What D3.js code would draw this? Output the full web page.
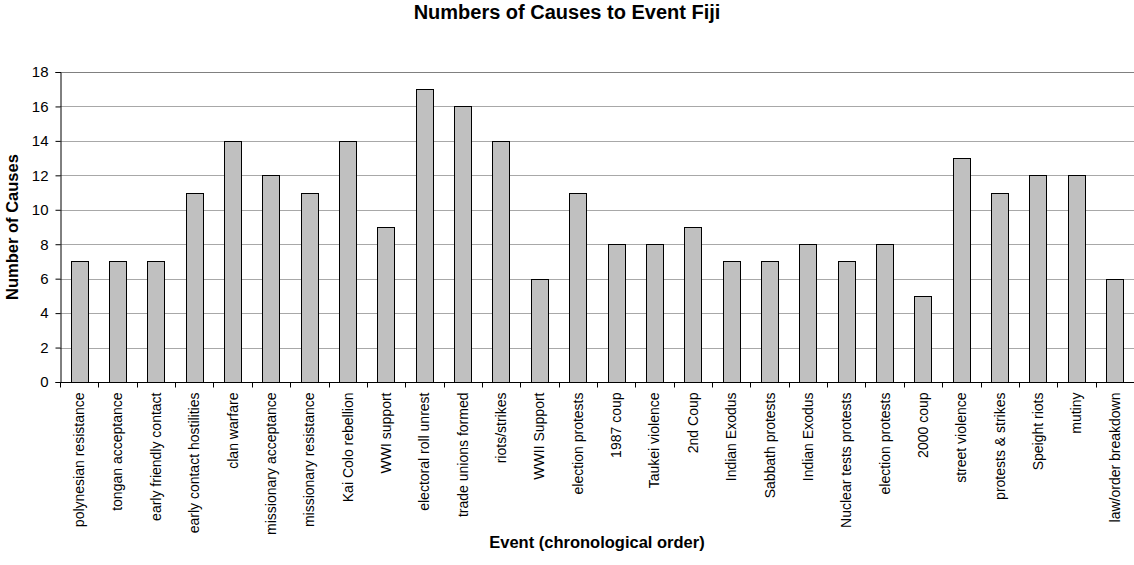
<!DOCTYPE html>
<html>
<head>
<meta charset="utf-8">
<script src="https://cdn.jsdelivr.net/npm/d3@7"></script>
<style>
  body { margin: 0; background: #fff; }
  svg { display: block; font-family: Arial, "Liberation Sans", sans-serif; }
</style>
</head>
<body>
<div id="chart"></div>
<script>
// Events in chronological order and number of causes
const events = [
  'polynesian resistance', 'tongan acceptance', 'early friendly contact',
  'early contact hostilities', 'clan warfare', 'missionary acceptance',
  'missionary resistance', 'Kai Colo rebellion', 'WWI support',
  'electoral roll unrest', 'trade unions formed', 'riots/strikes',
  'WWII Support', 'election protests', '1987 coup', 'Taukei violence',
  '2nd Coup', 'Indian Exodus', 'Sabbath protests', 'Indian Exodus',
  'Nuclear tests protests', 'election protests', '2000 coup',
  'street violence', 'protests & strikes', 'Speight riots', 'mutiny',
  'law/order breakdown'
];
const causes = [7, 7, 7, 11, 14, 12, 11, 14, 9, 17, 16, 14, 6, 11, 8, 8, 9, 7, 7, 8, 7, 8, 5, 13, 11, 12, 12, 6];
const yTicks = [0, 2, 4, 6, 8, 10, 12, 14, 16, 18];

const width = 1134, height = 565;
const margin = {top: 72, right: 0, bottom: 183, left: 60};
const innerW = width - margin.left - margin.right;
const innerH = height - margin.top - margin.bottom;

const data = events.map((e, i) => ({key: i, label: e, value: causes[i]}));

const svg = d3.select('#chart').append('svg')
  .attr('width', width)
  .attr('height', height);

const g = svg.append('g')
  .attr('transform', `translate(${margin.left},${margin.top})`);

const x = d3.scaleBand()
  .domain(data.map(d => d.key))
  .range([0, innerW])
  .paddingInner(0.55)
  .paddingOuter(0.275);

const y = d3.scaleLinear()
  .domain([0, 18])
  .range([innerH, 0]);

// Gridlines
g.append('g')
  .selectAll('line')
  .data(yTicks.filter(t => t > 0))
  .enter().append('line')
  .attr('x1', 0)
  .attr('x2', innerW)
  .attr('y1', d => Math.round(y(d)) + 0.5)
  .attr('y2', d => Math.round(y(d)) + 0.5)
  .attr('stroke', d => d === 18 ? '#808080' : '#a8a8a8')
  .attr('stroke-width', 1);

// Bars
g.append('g')
  .selectAll('rect')
  .data(data)
  .enter().append('rect')
  .attr('x', d => Math.round(x(d.key)) + 0.5)
  .attr('y', d => Math.round(y(d.value)) + 0.5)
  .attr('width', Math.round(x.bandwidth()))
  .attr('height', d => Math.round(innerH) - Math.round(y(d.value)))
  .attr('fill', '#c0c0c0')
  .attr('stroke', '#000')
  .attr('stroke-width', 1);

// Y axis
const yAxis = g.append('g')
  .attr('transform', 'translate(0.5,0)')
  .call(d3.axisLeft(y).tickValues(yTicks).tickSize(5).tickPadding(7));
yAxis.select('.domain').attr('stroke', '#000');
yAxis.selectAll('text')
  .attr('font-size', '15px')
  .attr('fill', '#000');

// X axis (ticks between categories)
const xAxisG = g.append('g')
  .attr('transform', `translate(0,${Math.round(innerH) + 0.5})`);
xAxisG.append('line')
  .attr('x1', 0).attr('x2', innerW)
  .attr('stroke', '#000');
xAxisG.selectAll('line.tick')
  .data(d3.range(events.length + 1))
  .enter().append('line')
  .attr('class', 'tick')
  .attr('x1', i => Math.round(i * x.step()) + 0.5)
  .attr('x2', i => Math.round(i * x.step()) + 0.5)
  .attr('y1', 0)
  .attr('y2', 5)
  .attr('stroke', '#000');

xAxisG.selectAll('text')
  .data(data)
  .enter().append('text')
  .attr('transform', d => `translate(${x(d.key) + x.bandwidth() / 2},10) rotate(-90)`)
  .attr('text-anchor', 'end')
  .attr('dy', '0.35em')
  .attr('font-size', '14px')
  .attr('fill', '#000')
  .text(d => d.label);

// Titles
svg.append('text')
  .attr('x', width / 2)
  .attr('y', 19)
  .attr('text-anchor', 'middle')
  .attr('font-size', '20px')
  .attr('font-weight', 'bold')
  .text('Numbers of Causes to Event Fiji');

svg.append('text')
  .attr('x', margin.left + innerW / 2)
  .attr('y', 548)
  .attr('text-anchor', 'middle')
  .attr('font-size', '16.5px')
  .attr('font-weight', 'bold')
  .text('Event (chronological order)');

svg.append('text')
  .attr('transform', `translate(18,${margin.top + innerH / 2}) rotate(-90)`)
  .attr('text-anchor', 'middle')
  .attr('font-size', '16.5px')
  .attr('font-weight', 'bold')
  .text('Number of Causes');
</script>
</body>
</html>
